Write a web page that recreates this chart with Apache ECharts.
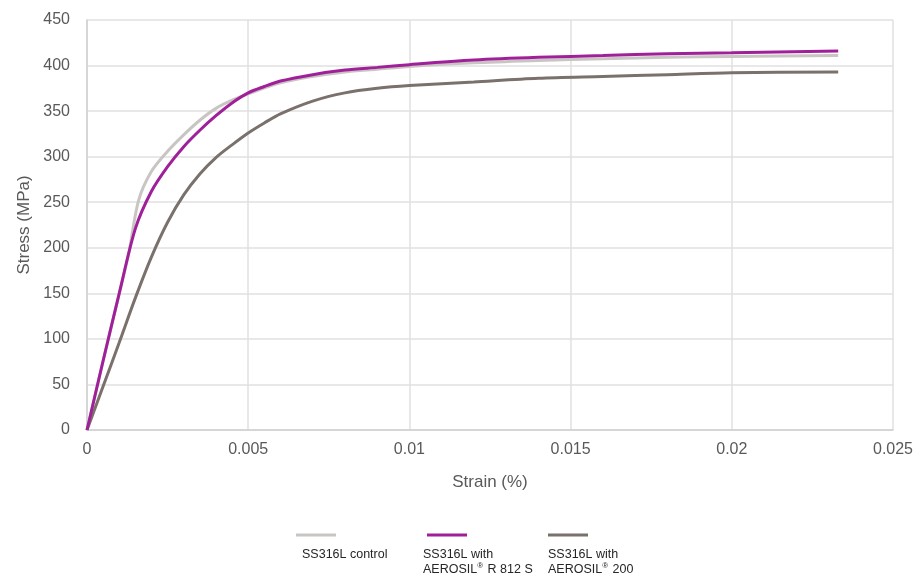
<!DOCTYPE html>
<html>
<head>
<meta charset="utf-8">
<script src="https://cdn.jsdelivr.net/npm/echarts@6/dist/echarts.min.js"></script>
<style>
  html, body { margin: 0; padding: 0; background: #fff; }
  #chart { width: 922px; height: 579px; }
</style>
</head>
<body>
<div id="chart"></div>
<script>
// data (strain in %, stress in MPa)
var controlStrain = [0, 0.0005, 0.001, 0.0013, 0.0016, 0.002, 0.0025, 0.003, 0.0035, 0.004, 0.0045, 0.005, 0.006, 0.007, 0.008, 0.009, 0.01, 0.012, 0.014, 0.016, 0.018, 0.02, 0.0233];
var controlStress = [0, 76, 150, 195, 252, 284, 306, 324, 340, 353, 362, 369, 381, 388, 393, 396, 399, 403, 405.5, 407.5, 409, 410, 411];

var r812Strain = [0, 0.0005, 0.001, 0.0015, 0.002, 0.0025, 0.003, 0.0035, 0.004, 0.0045, 0.005, 0.0055, 0.006, 0.007, 0.008, 0.009, 0.01, 0.012, 0.014, 0.016, 0.018, 0.02, 0.0233];
var r812Stress = [0, 76, 150, 221, 262, 289, 311, 329, 345, 359, 370, 377, 383, 390, 395, 398, 401, 406, 409, 411, 413, 414, 416];

var a200Strain = [0, 0.0005, 0.001, 0.0015, 0.002, 0.0025, 0.003, 0.0035, 0.004, 0.0045, 0.005, 0.0055, 0.006, 0.007, 0.008, 0.009, 0.01, 0.012, 0.014, 0.016, 0.018, 0.02, 0.0233];
var a200Stress = [0, 48, 96, 145, 190, 228, 258, 281, 299, 313, 326, 337, 347, 361, 370, 375, 378, 382, 386, 388, 390, 392, 393];

var xTicks = [0, 0.005, 0.01, 0.015, 0.02, 0.025];
var yTicks = [0, 50, 100, 150, 200, 250, 300, 350, 400, 450];

var names = ['SS316L control', 'SS316L with AEROSIL® R 812 S', 'SS316L with AEROSIL® 200'];
var colors = ['#c9c5c2', '#a0209a', '#7b716c'];

function pairs(xs, ys) {
	var out = [];
	for (var i = 0; i < xs.length; i++) out.push([xs[i], ys[i]]);
	return out;
}

// legend: line sample above a one/two line label
function legendFor(idx, left, barShift, textShift, line1, line2, rest) {
	var fmt = (barShift ? '{s|}' : '') + '{bar|}\n' + (textShift ? '{p|}' : '') + '{t|' + line1 + '}';
	if (line2) {
		fmt += '\n' + (textShift ? '{p|}' : '') + '{t|' + line2 + '}{r|®}{t|' + rest + '}';
	}
	var font = 'Liberation Sans, Arial';
	var rich = {
		s: { width: barShift, height: 3, lineHeight: 24 },
		p: { width: textShift, lineHeight: 15 },
		bar: { width: 40, height: 3, backgroundColor: colors[idx], lineHeight: 24 },
		t: { fontSize: 12.5, color: '#262626', lineHeight: 15, fontFamily: font },
		r: { fontSize: 8, color: '#262626', lineHeight: 15, verticalAlign: 'top', padding: [0, 1, 0, 0], fontFamily: font }
	};
	return {
		data: [names[idx]],
		left: left,
		top: 524,
		itemWidth: 0,
		itemHeight: 0,
		icon: 'rect',
		selectedMode: false,
		formatter: function () { return fmt; },
		textStyle: { rich: rich, padding: 0 }
	};
}

var chart = echarts.init(document.getElementById('chart'));

chart.setOption({
	animation: false,
	backgroundColor: '#fff',
	textStyle: { fontFamily: 'Liberation Sans, Arial' },
	grid: { left: 87, right: 29, top: 20, bottom: 149 },
	legend: [
		legendFor(0, 286, 0, 6, 'SS316L control'),
		legendFor(1, 413, 4, 0, 'SS316L with', 'AEROSIL', ' R 812 S'),
		legendFor(2, 538, 0, 0, 'SS316L with', 'AEROSIL', ' 200')
	],
	xAxis: {
		type: 'value',
		min: xTicks[0],
		max: xTicks[xTicks.length - 1],
		interval: 0.005,
		name: 'Strain (%)',
		nameLocation: 'middle',
		nameGap: 44,
		nameTextStyle: { fontSize: 17, color: '#595959' },
		axisLine: { lineStyle: { color: '#d0d0d0', width: 1.5 } },
		axisTick: { show: false },
		axisLabel: { fontSize: 16, color: '#595959', margin: 12 },
		splitLine: { lineStyle: { color: '#e0e0e0', width: 1.5 } }
	},
	yAxis: {
		type: 'value',
		min: yTicks[0],
		max: yTicks[yTicks.length - 1],
		interval: 50,
		name: 'Stress (MPa)',
		nameLocation: 'middle',
		nameGap: 51,
		nameTextStyle: { fontSize: 17, color: '#595959' },
		axisLine: { show: true, lineStyle: { color: '#d0d0d0', width: 1.5 } },
		axisTick: { show: false },
		axisLabel: { fontSize: 16, color: '#595959', margin: 17 },
		splitLine: { lineStyle: { color: '#e0e0e0', width: 1.5 } }
	},
	series: [
		{
			name: names[0],
			type: 'line',
			data: pairs(controlStrain, controlStress),
			smooth: 0.3,
			showSymbol: false,
			lineStyle: { color: colors[0], width: 3 },
			itemStyle: { color: colors[0] },
			z: 2
		},
		{
			name: names[2],
			type: 'line',
			data: pairs(a200Strain, a200Stress),
			smooth: 0.3,
			showSymbol: false,
			lineStyle: { color: colors[2], width: 3 },
			itemStyle: { color: colors[2] },
			z: 3
		},
		{
			name: names[1],
			type: 'line',
			data: pairs(r812Strain, r812Stress),
			smooth: 0.3,
			showSymbol: false,
			lineStyle: { color: colors[1], width: 3 },
			itemStyle: { color: colors[1] },
			z: 4
		}
	]
});
</script>
</body>
</html>
